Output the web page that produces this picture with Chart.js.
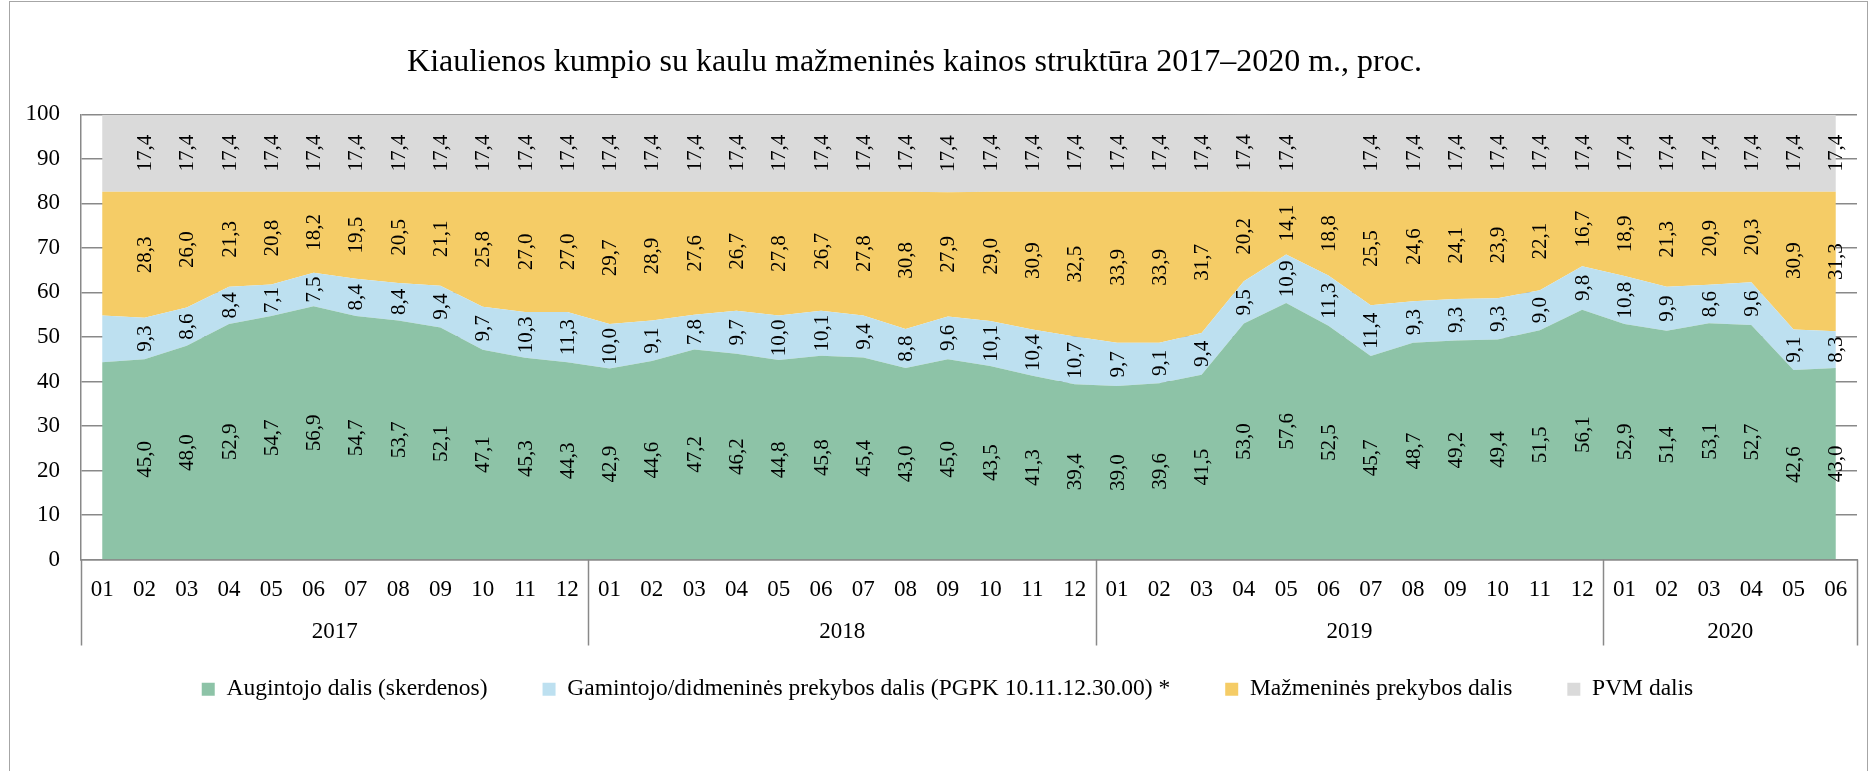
<!DOCTYPE html>
<html>
<head>
<meta charset="utf-8">
<title>Kiaulienos kumpio su kaulu mažmeninės kainos struktūra</title>
<script src="https://cdn.jsdelivr.net/npm/chart.js@4.4.1/dist/chart.umd.min.js"></script>
<style>
html, body { margin: 0; padding: 0; background: #fff; }
#wrap { position: relative; width: 1872px; height: 771px; overflow: hidden; }
#canvas { position: absolute; left: 0; top: 0; }
#frame { position: absolute; left: 9px; top: 1px; width: 1857px; height: 900px; border: 1px solid #a6a6a6; pointer-events: none; }
</style>
</head>
<body>
<div id="wrap">
	<canvas id="canvas" width="1872" height="771"></canvas>
	<div id="frame"></div>
</div>
<script>
var years = ['2017', '2018', '2019', '2020'];
var monthsInYear = [12, 12, 12, 6];
var monthNames = ['01', '02', '03', '04', '05', '06', '07', '08', '09', '10', '11', '12'];

// Augintojo dalis (skerdenos)
var augintojo = [
	44.3, 45.0, 48.0, 52.9, 54.7, 56.9, 54.7, 53.7, 52.1, 47.1, 45.3, 44.3,
	42.9, 44.6, 47.2, 46.2, 44.8, 45.8, 45.4, 43.0, 45.0, 43.5, 41.3, 39.4,
	39.0, 39.6, 41.5, 53.0, 57.6, 52.5, 45.7, 48.7, 49.2, 49.4, 51.5, 56.1,
	52.9, 51.4, 53.1, 52.7, 42.6, 43.0
];
// Gamintojo/didmeninės prekybos dalis
var gamintojo = [
	10.5, 9.3, 8.6, 8.4, 7.1, 7.5, 8.4, 8.4, 9.4, 9.7, 10.3, 11.3,
	10.0, 9.1, 7.8, 9.7, 10.0, 10.1, 9.4, 8.8, 9.6, 10.1, 10.4, 10.7,
	9.7, 9.1, 9.4, 9.5, 10.9, 11.3, 11.4, 9.3, 9.3, 9.3, 9.0, 9.8,
	10.8, 9.9, 8.6, 9.6, 9.1, 8.3
];
// Mažmeninės prekybos dalis
var mazmenines = [
	27.8, 28.3, 26.0, 21.3, 20.8, 18.2, 19.5, 20.5, 21.1, 25.8, 27.0, 27.0,
	29.7, 28.9, 27.6, 26.7, 27.8, 26.7, 27.8, 30.8, 27.9, 29.0, 30.9, 32.5,
	33.9, 33.9, 31.7, 20.2, 14.1, 18.8, 25.5, 24.6, 24.1, 23.9, 22.1, 16.7,
	18.9, 21.3, 20.9, 20.3, 30.9, 31.3
];
// PVM dalis
var pvm = [
	17.4, 17.4, 17.4, 17.4, 17.4, 17.4, 17.4, 17.4, 17.4, 17.4, 17.4, 17.4,
	17.4, 17.4, 17.4, 17.4, 17.4, 17.4, 17.4, 17.4, 17.4, 17.4, 17.4, 17.4,
	17.4, 17.4, 17.4, 17.4, 17.4, 17.4, 17.4, 17.4, 17.4, 17.4, 17.4, 17.4,
	17.4, 17.4, 17.4, 17.4, 17.4, 17.4
];

var seriesNames = [
	'Augintojo dalis (skerdenos)',
	'Gamintojo/didmeninės prekybos dalis (PGPK 10.11.12.30.00) *',
	'Mažmeninės prekybos dalis',
	'PVM dalis'
];
var seriesColors = ['#8dc3a7', '#bde0f0', '#f5cc66', '#dadada'];

// months shown without value labels (whole column), and the one missing PVM label
var unlabeledMonths = [0];
var unlabeledPvm = [29];

var titleText = 'Kiaulienos kumpio su kaulu mažmeninės kainos struktūra 2017–2020 m., proc.';
var serif = 'Liberation Serif';
var axisGray = '#898989';

function buildLabels(){
	var r = [];
	for(var i = 0; i < years.length; i++){
		for(var m = 0; m < monthsInYear[i]; m++){
			r.push(monthNames[m]);
		}
	}
	return r;
}

function fmt(v){
	return v.toFixed(1).replace('.', ',');
}

// value labels, rotated, centred in each band
var valueLabels = {
	id: 'valueLabels',
	afterDatasetsDraw: function(chart){
		var ctx = chart.ctx;
		var xs = chart.scales.x;
		var ys = chart.scales.y;
		var n = chart.data.labels.length;
		ctx.save();
		ctx.font = '21px "' + serif + '"';
		ctx.fillStyle = '#000';
		ctx.textAlign = 'center';
		ctx.textBaseline = 'middle';
		for(var j = 0; j < n; j++){
			var cum = 0;
			for(var i = 0; i < chart.data.datasets.length; i++){
				var v = chart.data.datasets[i].data[j];
				var mid = cum + v / 2;
				cum += v;
				if(unlabeledMonths.indexOf(j) >= 0) continue;
				if(i == 3 && unlabeledPvm.indexOf(j) >= 0) continue;
				ctx.save();
				ctx.translate(xs.getPixelForValue(j), ys.getPixelForValue(mid));
				ctx.rotate(-Math.PI / 2);
				ctx.fillText(fmt(v), 0, 1);
				ctx.restore();
			}
		}
		ctx.restore();
	}
};

// year row under the month labels, with separators
var yearAxis = {
	id: 'yearAxis',
	afterDraw: function(chart){
		var ctx = chart.ctx;
		var xs = chart.scales.x;
		var area = chart.chartArea;
		var n = chart.data.labels.length;
		var step = (xs.right - xs.left) / n;
		var bottom = area.bottom + 86;
		ctx.save();
		ctx.strokeStyle = axisGray;
		ctx.lineWidth = 1.5;
		ctx.font = '23px "' + serif + '"';
		ctx.fillStyle = '#000';
		ctx.textAlign = 'center';
		ctx.textBaseline = 'middle';
		var k = 0;
		var edges = [0];
		for(var i = 0; i < years.length; i++){
			var x0 = xs.left + k * step;
			k += monthsInYear[i];
			var x1 = xs.left + k * step;
			edges.push(k);
			ctx.fillText(years[i], (x0 + x1) / 2, area.bottom + 72);
		}
		for(var e = 0; e < edges.length; e++){
			var x = Math.round(xs.left + edges[e] * step) + 0.5;
			ctx.beginPath();
			ctx.moveTo(x, area.bottom);
			ctx.lineTo(x, bottom);
			ctx.stroke();
		}
		ctx.restore();
	}
};

// title sits a bit left of centre, legend a bit right, as in the source
var nudgeBlocks = {
	id: 'nudgeBlocks',
	afterLayout: function(chart){
		if(chart.titleBlock){
			chart.titleBlock.left -= 24;
			chart.titleBlock.right -= 24;
		}
		if(chart.legend){
			chart.legend.left += 9;
			chart.legend.right += 9;
		}
	}
};

function drawCanvas(){
	var series = [augintojo, gamintojo, mazmenines, pvm];
	var datasets = [];
	for(var i = 0; i < series.length; i++){
		datasets.push({
			label: seriesNames[i],
			data: series[i],
			backgroundColor: seriesColors[i],
			borderColor: seriesColors[i],
			borderWidth: 0,
			pointRadius: 0,
			tension: 0,
			fill: i == 0 ? 'origin' : '-1'
		});
	}
	var ctx = document.getElementById('canvas').getContext('2d');
	window.myChart = new Chart(ctx, {
		type: 'line',
		data: { labels: buildLabels(), datasets: datasets },
		plugins: [valueLabels, yearAxis, nudgeBlocks],
		options: {
			responsive: false,
			animation: false,
			devicePixelRatio: 1,
			layout: { padding: { left: 20, right: 15, top: 0, bottom: 60 } },
			plugins: {
				title: {
					display: true,
					text: titleText,
					color: '#000',
					font: { family: serif, size: 32, weight: 'normal' },
					padding: { top: 43, bottom: 33 }
				},
				legend: {
					position: 'bottom',
					labels: {
						color: '#000',
						font: { family: serif, size: 23.5 },
						boxWidth: 13,
						boxHeight: 13,
						padding: 55
					}
				},
				tooltip: { enabled: false }
			},
			scales: {
				x: {
					offset: true,
					grid: { display: false, drawTicks: false },
					border: { display: true, color: axisGray, width: 1.5 },
					ticks: {
						autoSkip: false,
						maxRotation: 0,
						padding: 17,
						color: '#000',
						font: { family: serif, size: 23 }
					},
					afterFit: function(s){ s.height = 63; }
				},
				y: {
					stacked: true,
					min: 0,
					max: 100,
					ticks: {
						stepSize: 10,
						padding: 21,
						color: '#000',
						font: { family: serif, size: 23 }
					},
					grid: { color: axisGray, lineWidth: 1.5, drawTicks: false },
					border: { color: axisGray, width: 1.5 },
					afterFit: function(s){ s.width = 61; }
				}
			}
		}
	});
}

drawCanvas();
</script>
</body>
</html>
